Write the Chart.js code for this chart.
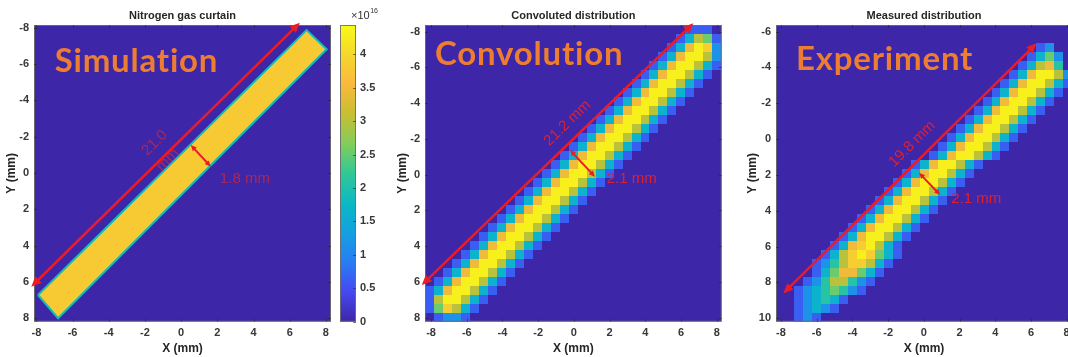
<!DOCTYPE html>
<html>
<head>
<meta charset="utf-8">
<script src="https://cdn.jsdelivr.net/npm/chart.js@4.4.1/dist/chart.umd.min.js"></script>
<style>
  body { margin: 0; background: #fff; width: 1068px; height: 357px; overflow: hidden; position: relative; }
  canvas { position: absolute; top: 0; }
</style>
</head>
<body>
<canvas id="sim" width="336" height="357" style="left:0"></canvas>
<canvas id="cbar" width="52" height="357" style="left:336px"></canvas>
<canvas id="conv" width="337" height="357" style="left:391px"></canvas>
<canvas id="meas" width="339" height="357" style="left:741px"></canvas>
<script>
// Tick labels (mm)
const xTicks = [-8, -6, -4, -2, 0, 2, 4, 6, 8];
const yTicks = [-8, -6, -4, -2, 0, 2, 4, 6, 8];
const measYTicks = [-6, -4, -2, 0, 2, 4, 6, 8, 10];
const cbarTicks = [0, 0.5, 1, 1.5, 2, 2.5, 3, 3.5, 4];
const cbarMax = 4.44; // x1e16

// Simulation: gas curtain outline (mm) and density (x1e16)
const simBandX = [-7.91, -6.8, 8.04, 6.93, -7.91];
const simBandY = [6.72, 8.0, -6.81, -7.87, 6.72];
const simDensity = 3.8;

// 0.5 mm pixel maps: one string per row, each digit is a colour level
const levels = [0, 0.14, 0.26, 0.37, 0.47, 0.57, 0.68, 0.78, 0.87, 0.97];

const convRowStart = [29, 28, 27, 26, 25, 24, 23, 22, 21, 20, 19, 18, 17, 16, 15, 14, 13,
  12, 11, 10, 9, 8, 7, 6, 5, 4, 3, 2, 1, 0, 0, 0, 1];
const convRows = ['111', '13651', '137982', '1379962',
  '13799631', '13799631', '13799631', '13799631', '13799631', '13799631', '13799631',
  '13799631', '13799631', '13799631', '13799631', '13799631', '13799631', '13799631',
  '13799631', '13799631', '13799631', '13799631', '13799631', '13799631', '13799631',
  '13799631', '13799631', '13799631', '13799631',
  '13799631', '1699631', '158631', '1221'];

const measRowStart = [0, 0, 29, 28, 27, 26, 25, 24, 23, 22, 21, 20, 19, 18, 17, 15, 14,
  13, 12, 11, 10, 9, 8, 7, 6, 5, 4, 4, 3, 2, 2, 2, 2];
const measRows = ['', '', '12', '1352', '13674', '1379962', '13799631',
  '13799631', '13799631', '13799631', '13799631', '13799631', '13799631', '13799631',
  '13799631', '13799631', '13799631', '13799631', '13799631', '13799631', '13799631',
  '13799631', '13799631', '13799631',
  '13789631', '136898531', '124688631', '13577531', '12466421', '12345421',
  '123431', '12321', '121'];

// Parula colour map
const parulaStops = [
  [0.0, 62, 38, 168], [0.1, 70, 72, 240], [0.2, 40, 125, 245], [0.3, 20, 160, 225],
  [0.4, 10, 185, 195], [0.5, 50, 200, 150], [0.6, 130, 205, 90], [0.7, 200, 190, 50],
  [0.8, 250, 185, 60], [0.9, 245, 215, 45], [1.0, 249, 251, 21]
];

function parula(t) {
  t = Math.max(0, Math.min(1, t));
  for (let i = 1; i < parulaStops.length; i++) {
    const a = parulaStops[i - 1], b = parulaStops[i];
    if (t <= b[0]) {
      const f = (t - a[0]) / (b[0] - a[0]);
      const c = [1, 2, 3].map(k => Math.round(a[k] + (b[k] - a[k]) * f));
      return `rgb(${c[0]},${c[1]},${c[2]})`;
    }
  }
  return 'rgb(249,251,21)';
}

Chart.defaults.font.family = '"Liberation Sans", Arial, sans-serif';

const tickFont = { size: 11, weight: 'bold' };
const titleFont = { size: 12, weight: 'bold' };
const RED = '#ea1c26';

function arrow(ctx, x1, y1, x2, y2, head, lw) {
  const a = Math.atan2(y2 - y1, x2 - x1);
  const cos = Math.cos(a), sin = Math.sin(a);
  ctx.lineWidth = lw;
  ctx.beginPath();
  ctx.moveTo(x1 + cos * head * 0.7, y1 + sin * head * 0.7);
  ctx.lineTo(x2 - cos * head * 0.7, y2 - sin * head * 0.7);
  ctx.stroke();
  [[x2, y2, 1], [x1, y1, -1]].forEach(([x, y, d]) => {
    const bx = x - d * cos * head, by = y - d * sin * head;
    const w = head * 0.45;
    ctx.beginPath();
    ctx.moveTo(x, y);
    ctx.lineTo(bx - sin * w, by + cos * w);
    ctx.lineTo(bx + sin * w, by - cos * w);
    ctx.closePath();
    ctx.fill();
  });
}

// Background, pixel map, frame and annotations for one panel
function panelPlugin(p) {
  return {
    id: 'panel',
    beforeDatasetsDraw(chart) {
      const { ctx, chartArea: area, scales: { x, y } } = chart;
      ctx.save();
      ctx.beginPath();
      ctx.rect(area.left, area.top, area.width, area.height);
      ctx.clip();
      ctx.fillStyle = parula(0);
      ctx.fillRect(area.left, area.top, area.width, area.height);
      if (p.rows) {
        ctx.filter = 'blur(0.6px)';
        p.rows.forEach((row, r) => {
          for (let i = 0; i < row.length; i++) {
            const n = +row[i];
            if (!n) continue;
            const c = p.rowStart[r] + i;
            const x0 = Math.round(x.getPixelForValue(p.x0 + c * p.cell));
            const x1 = Math.round(x.getPixelForValue(p.x0 + (c + 1) * p.cell));
            const y0 = Math.round(y.getPixelForValue(p.y0 + r * p.cell));
            const y1 = Math.round(y.getPixelForValue(p.y0 + (r + 1) * p.cell));
            ctx.fillStyle = parula(levels[n]);
            ctx.fillRect(x0, Math.min(y0, y1), x1 - x0, Math.abs(y1 - y0));
          }
        });
      }
      ctx.restore();
    },
    afterDatasetsDraw(chart) {
      const { ctx, chartArea: area, scales: { x, y } } = chart;
      ctx.save();
      // frame and inward ticks
      ctx.strokeStyle = 'rgba(110,110,110,0.9)';
      ctx.lineWidth = 1;
      ctx.strokeRect(area.left + 0.5, area.top + 0.5, area.width - 1, area.height - 1);
      ctx.strokeStyle = 'rgba(40,40,40,0.6)';
      ctx.beginPath();
      x.ticks.forEach(t => {
        const px = Math.round(x.getPixelForValue(t.value)) + 0.5;
        ctx.moveTo(px, area.bottom); ctx.lineTo(px, area.bottom - 3);
        ctx.moveTo(px, area.top); ctx.lineTo(px, area.top + 3);
      });
      y.ticks.forEach(t => {
        const py = Math.round(y.getPixelForValue(t.value)) + 0.5;
        ctx.moveTo(area.left, py); ctx.lineTo(area.left + 3, py);
        ctx.moveTo(area.right, py); ctx.lineTo(area.right - 3, py);
      });
      ctx.stroke();

      // panel title
      ctx.fillStyle = '#262626';
      ctx.font = 'bold 11px "Liberation Sans", Arial, sans-serif';
      ctx.textAlign = 'center';
      ctx.textBaseline = 'middle';
      ctx.fillText(p.title, (area.left + area.right) / 2, 16);

      // big label
      ctx.save();
      ctx.fillStyle = '#ed7d31';
      ctx.font = 'bold 33px Lato, "Open Sans", sans-serif';
      ctx.letterSpacing = '0.8px';
      ctx.textAlign = 'left';
      ctx.textBaseline = 'alphabetic';
      ctx.fillText(p.label[0], x.getPixelForValue(p.label[1]), y.getPixelForValue(p.label[2]));
      ctx.restore();

      // arrows
      const L = p.long.map((v, i) => (i % 2 ? y : x).getPixelForValue(v));
      const S = p.short.map((v, i) => (i % 2 ? y : x).getPixelForValue(v));
      ctx.strokeStyle = RED;
      ctx.fillStyle = RED;
      arrow(ctx, L[0], L[1], L[2], L[3], 10, 2.5);
      arrow(ctx, S[0], S[1], S[2], S[3], 6, 2);

      // length and width texts
      const ang = Math.atan2(L[3] - L[1], L[2] - L[0]);
      ctx.fillStyle = p.textColor;
      ctx.font = '15px "Liberation Sans", Arial, sans-serif';
      ctx.textBaseline = 'middle';
      ctx.textAlign = 'center';
      p.lengthText.forEach(([txt, tx, ty]) => {
        ctx.save();
        ctx.translate(x.getPixelForValue(tx), y.getPixelForValue(ty));
        ctx.rotate(ang);
        ctx.fillText(txt, 0, 0);
        ctx.restore();
      });
      ctx.textAlign = 'left';
      ctx.fillText(p.widthText[0], x.getPixelForValue(p.widthText[1]), y.getPixelForValue(p.widthText[2]));
      ctx.restore();
    }
  };
}

function axisTitle(text) {
  return { display: true, text, color: '#262626', font: titleFont, padding: { top: 4, bottom: 1.5 } };
}

function scalesFor(xr, yr, yt, yw) {
  return {
    x: {
      type: 'linear', min: xr[0], max: xr[1],
      grid: { display: false, drawTicks: false }, border: { display: false },
      ticks: { color: '#383838', font: tickFont, padding: 5 },
      afterBuildTicks: s => { s.ticks = xTicks.map(v => ({ value: v })); },
      afterFit: s => { s.height = 35.3; },
      title: axisTitle('X (mm)')
    },
    y: {
      type: 'linear', reverse: true, min: yr[0], max: yr[1],
      grid: { display: false, drawTicks: false }, border: { display: false },
      ticks: { color: '#383838', font: tickFont, padding: 5 },
      afterBuildTicks: s => { s.ticks = yt.map(v => ({ value: v })); },
      afterFit: s => { s.width = yw; },
      title: axisTitle('Y (mm)')
    }
  };
}

function makePanel(id, p, xr, yr, yt, yw, padRight, datasets) {
  return new Chart(document.getElementById(id), {
    type: 'scatter',
    data: { datasets },
    options: {
      responsive: false,
      animation: false,
      layout: { padding: { top: 25, right: padRight, bottom: 0, left: 0 } },
      plugins: { legend: { display: false }, tooltip: { enabled: false } },
      scales: scalesFor(xr, yr, yt, yw)
    },
    plugins: [panelPlugin(p)]
  });
}

// Simulation panel
makePanel('sim', {
  title: 'Nitrogen gas curtain',
  label: ['Simulation', -6.99, -5.58],
  long: [-8.28, 6.26, 6.56, -8.28],
  short: [0.53, -1.54, 1.64, -0.35],
  lengthText: [['21.0', -1.46, -1.65], ['mm', -0.74, -0.72]],
  widthText: ['1.8 mm', 2.14, 0.33],
  textColor: 'rgba(214,40,56,0.72)'
}, [-8.13, 8.28], [-8.15, 8.19], yTicks, 34, 5, [{
  data: simBandX.map((v, i) => ({ x: v, y: simBandY[i] })),
  showLine: true,
  fill: 'shape',
  pointRadius: 0,
  borderWidth: 2,
  borderColor: parula(0.42),
  backgroundColor: parula(simDensity / cbarMax),
  tension: 0
}]);

// Convolution panel
makePanel('conv', {
  title: 'Convoluted distribution',
  label: ['Convolution', -7.78, -6.14],
  rows: convRows, rowStart: convRowStart, x0: -8.34, y0: -8.37, cell: 0.503,
  long: [-8.52, 6.17, 6.69, -8.47],
  short: [-0.22, -1.38, 1.18, 0.11],
  lengthText: [['21.2 mm', -0.36, -2.88]],
  widthText: ['2.1 mm', 1.84, 0.24],
  textColor: '#e0202c'
}, [-8.34, 8.28], [-8.37, 8.22], yTicks, 34, 6.3, []);

// Measured panel
makePanel('meas', {
  title: 'Measured distribution',
  label: ['Experiment', -7.16, -3.86],
  rows: measRows, rowStart: measRowStart, x0: -8.28, y0: -6.37, cell: 0.503,
  long: [-7.87, 8.61, 6.32, -5.35],
  short: [-0.27, 1.88, 0.92, 3.12],
  lengthText: [['19.8 mm', -0.65, 0.27]],
  widthText: ['2.1 mm', 1.54, 3.35],
  textColor: '#e0202c'
}, [-8.28, 8.3], [-6.37, 10.19], measYTicks, 35, 8, []);

// Colour bar
const cbarFrame = {
  id: 'cbarFrame',
  afterDatasetsDraw(chart) {
    const { ctx, chartArea: a, scales: { y } } = chart;
    ctx.save();
    ctx.strokeStyle = 'rgba(110,110,110,0.9)';
    ctx.lineWidth = 1;
    ctx.strokeRect(a.left + 0.5, a.top + 0.5, a.width - 1, a.height - 1);
    ctx.strokeStyle = 'rgba(40,40,40,0.6)';
    ctx.beginPath();
    y.ticks.forEach(t => {
      const py = Math.round(y.getPixelForValue(t.value)) + 0.5;
      ctx.moveTo(a.right, py); ctx.lineTo(a.right - 3, py);
    });
    ctx.stroke();
    ctx.fillStyle = '#333';
    ctx.textBaseline = 'alphabetic';
    ctx.font = '11px "Liberation Sans", Arial, sans-serif';
    ctx.fillText('\u00d710', a.left + 11, 19);
    const w = ctx.measureText('\u00d710').width;
    ctx.font = '7px "Liberation Sans", Arial, sans-serif';
    ctx.fillText('16', a.left + 11 + w + 0.5, 13);
    ctx.restore();
  }
};

new Chart(document.getElementById('cbar'), {
  type: 'bar',
  data: {
    labels: [''],
    datasets: [{
      data: [[0, cbarMax]],
      barPercentage: 1,
      categoryPercentage: 1,
      borderWidth: 0,
      backgroundColor: c => {
        const a = c.chart.chartArea;
        if (!a) return parula(0.5);
        const g = c.chart.ctx.createLinearGradient(0, a.bottom, 0, a.top);
        parulaStops.forEach(s => g.addColorStop(s[0], `rgb(${s[1]},${s[2]},${s[3]})`));
        return g;
      }
    }]
  },
  options: {
    responsive: false,
    animation: false,
    layout: { padding: { top: 25, right: 0, bottom: 35.3, left: 4 } },
    plugins: { legend: { display: false }, tooltip: { enabled: false } },
    scales: {
      x: { display: false },
      y: {
        position: 'right', min: 0, max: cbarMax,
        grid: { display: false, drawTicks: false }, border: { display: false },
        ticks: { color: '#383838', font: tickFont, padding: 4, callback: v => String(v) },
        afterBuildTicks: s => { s.ticks = cbarTicks.map(v => ({ value: v })); },
        afterFit: s => { s.width = 32; }
      }
    }
  },
  plugins: [cbarFrame]
});
</script>
</body>
</html>
